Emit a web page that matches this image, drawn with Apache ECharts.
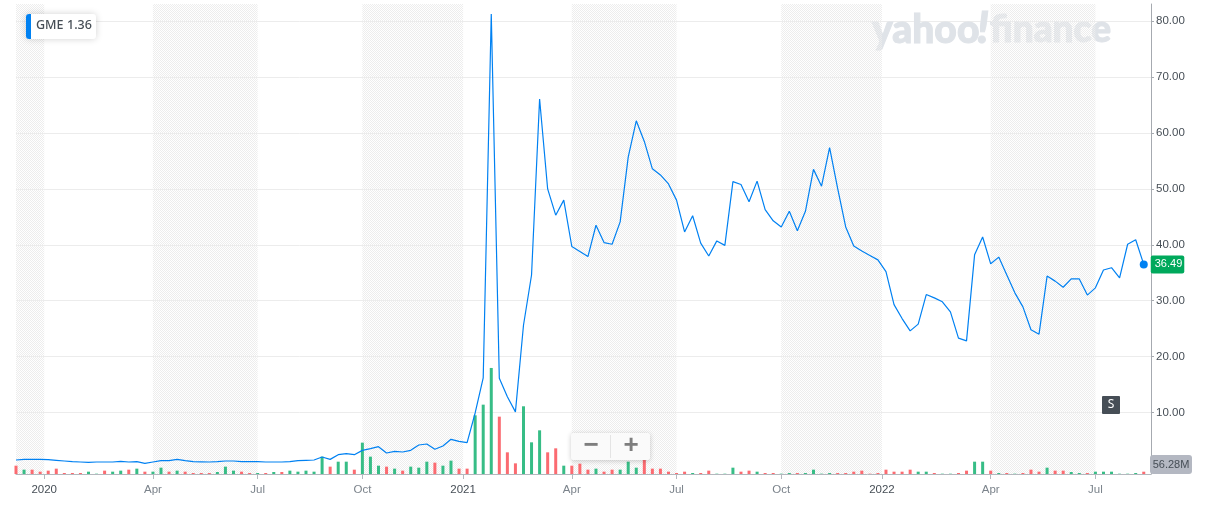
<!DOCTYPE html>
<html>
<head>
<meta charset="utf-8">
<title>GME</title>
<script src="https://cdn.jsdelivr.net/npm/echarts@6/dist/echarts.min.js"></script>
<style>
    html, body { margin: 0; padding: 0; background: #fff; }
    #main { width: 1208px; height: 511px; }
</style>
</head>
<body>
<div id="main"></div>
<script>
    // weekly closes, split adjusted, oldest first
    var prices = [
        1.49, 1.6, 1.6, 1.6, 1.55, 1.43, 1.31, 1.19, 1.13, 1.07,
        1.13, 1.13, 1.13, 1.25, 1.13, 1.19, 0.89, 1.13, 1.37, 1.37,
        1.6, 1.37, 1.19, 1.16, 1.13, 1.19, 1.31, 1.31, 1.19, 1.19,
        1.19, 1.13, 1.13, 1.13, 1.19, 1.37, 1.43, 1.49, 2.03, 1.6,
        2.44, 2.62, 2.44, 3.21, 3.51, 3.87, 2.74, 3.04, 2.92, 3.22,
        4.17, 4.35, 3.4, 3.99, 5.19, 4.83, 4.59, 9.9, 16.2, 81.3,
        16.1, 12.8, 10.1, 25.6, 34.6, 66.1, 50.0, 45.3, 48.0, 39.7,
        38.8, 37.9, 43.5, 40.4, 40.1, 44.1, 55.7, 62.2, 58.5, 53.6,
        52.5, 50.9, 48.0, 42.3, 45.2, 40.3, 38.0, 40.7, 39.9, 51.3,
        50.8, 47.7, 51.4, 46.3, 44.3, 43.2, 46.0, 42.5, 46.0, 53.5,
        50.5, 57.4, 50.1, 43.2, 39.8, 38.9, 38.1, 37.3, 35.2, 29.3,
        26.8, 24.6, 25.8, 31.1, 30.5, 29.8, 28.0, 23.3, 22.8, 38.2,
        41.4, 36.6, 37.8, 34.6, 31.4, 28.9, 24.8, 24.0, 34.4, 33.5,
        32.4, 33.9, 33.9, 31.0, 32.3, 35.5, 35.9, 34.1, 40.1, 40.9,
        36.49
    ];
    // weekly volume in millions
    var volumes = [
        204, 106, 106, 57, 82, 131, 25, 25, 25, 57,
        8, 82, 57, 82, 106, 131, 57, 57, 155, 57,
        82, 57, 25, 25, 25, 49, 180, 82, 57, 25,
        25, 25, 49, 49, 82, 57, 82, 57, 425, 180,
        302, 302, 106, 768, 425, 204, 180, 131, 82, 180,
        155, 302, 278, 204, 327, 131, 131, 1438, 1699, 2598,
        1405, 531, 261, 1659, 776, 1070, 531, 629, 204, 204,
        253, 106, 131, 57, 106, 106, 302, 155, 351, 131,
        131, 57, 25, 57, 25, 25, 82, 8, 8, 155,
        57, 82, 57, 25, 25, 8, 25, 25, 25, 106,
        8, 25, 25, 25, 57, 82, 8, 25, 106, 57,
        57, 106, 57, 57, 25, 8, 8, 25, 82, 302,
        302, 82, 25, 25, 8, 25, 106, 57, 155, 82,
        82, 49, 25, 25, 57, 57, 57, 8, 8, 25,
        56.28
    ];
    // 1 = up week, 0 = down week
    var volumeUp = [
        0, 1, 0, 0, 0, 0, 0, 0, 0, 1,
        1, 0, 1, 1, 0, 1, 0, 1, 1, 0,
        1, 0, 0, 0, 0, 1, 1, 1, 0, 0,
        1, 0, 1, 0, 1, 1, 1, 1, 1, 0,
        1, 1, 0, 1, 1, 1, 0, 1, 0, 1,
        1, 1, 0, 1, 1, 0, 0, 1, 1, 1,
        0, 0, 0, 1, 1, 1, 0, 0, 1, 0,
        0, 0, 1, 0, 0, 1, 1, 1, 0, 0,
        0, 0, 0, 0, 1, 0, 0, 1, 1, 1,
        0, 0, 1, 0, 0, 1, 1, 0, 1, 1,
        1, 1, 0, 0, 0, 0, 0, 0, 0, 0,
        0, 0, 1, 1, 0, 1, 1, 0, 0, 1,
        1, 0, 1, 0, 1, 0, 0, 0, 1, 0,
        0, 1, 1, 0, 1, 1, 1, 1, 1, 1,
        0
    ];
    var weeks = prices.map(function(v, i) { return i; });

    // x ticks, in weeks since the first point
    var tickWeeks = [3.5, 17, 30, 43, 55.5, 69, 82, 95, 107.5, 121, 134];
    var tickLabels = ['2020', 'Apr', 'Jul', 'Oct', '2021', 'Apr', 'Jul', 'Oct', '2022', 'Apr', 'Jul'];
    var priceTicks = [10, 20, 30, 40, 50, 60, 70, 80];
    var priceLines = [0, 10, 20, 30, 40, 50, 60, 70, 80, 83.1];
    // alternate quarters, same week units
    var shadedQuarters = [[0, 3.5], [17, 30], [43, 55.5], [69, 82], [95, 107.5], [121, 134]];

    var lastPrice = prices[prices.length - 1];
    var lastVolume = '56.28M';

    var TEXT_DARK = '#464e56';
    var TEXT_GREY = '#7b838b';
    var UP = '#37bd86';
    var DOWN = '#fb6b71';
    var BLUE = '#0081f2';
    var WATERMARK = '#dfe3e8';

    function make_hatch() {
        var c = document.createElement('canvas');
        c.width = 2;
        c.height = 2;
        var ctx = c.getContext('2d');
        ctx.fillStyle = '#ededed';
        ctx.fillRect(0, 0, 1, 1);
        ctx.fillRect(1, 1, 1, 1);
        return c;
    }

    var hatch = { image: make_hatch(), repeat: 'repeat' };

    var lineData = prices.map(function(v, i) {
        var item = { value: [weeks[i], v] };
        if (i === prices.length - 1) {
            item.label = {
                show: true,
                position: 'right',
                distance: 3,
                formatter: lastPrice.toFixed(2),
                color: '#fff',
                fontSize: 11,
                fontFamily: 'Liberation Sans',
                backgroundColor: '#00a95c',
                borderRadius: 2,
                padding: [4, 2, 3, 4]
            };
        }
        return item;
    });

    var barData = volumes.map(function(v, i) {
        return { value: [weeks[i], v], itemStyle: { color: volumeUp[i] ? UP : DOWN } };
    });

    var option = {
        animation: false,
        backgroundColor: '#fff',
        textStyle: { fontFamily: 'Liberation Sans' },
        grid: { left: 16, top: 4, width: 1135, height: 470, containLabel: false },
        xAxis: {
            type: 'value',
            min: 0,
            max: 140.9,
            splitLine: { show: false },
            axisLine: { onZero: false, lineStyle: { color: '#b4b8be', width: 1 } },
            axisTick: { show: true, length: 5, lineStyle: { color: '#b4b8be' }, customValues: tickWeeks },
            axisLabel: {
                customValues: tickWeeks,
                margin: 10,
                fontSize: 11.5,
                color: function(value, index) {
                    return tickLabels[index].length === 4 ? TEXT_DARK : TEXT_GREY;
                },
                formatter: function(value) {
                    return tickLabels[tickWeeks.indexOf(value)];
                }
            }
        },
        yAxis: [{
            type: 'value',
            position: 'right',
            min: -1.02,
            max: 83.1,
            axisLine: { show: true, onZero: false, lineStyle: { color: '#a6aab0', width: 1 } },
            axisTick: { show: true, length: 3, lineStyle: { color: '#a6aab0' }, customValues: priceTicks },
            axisLabel: {
                customValues: priceTicks,
                margin: 5,
                fontSize: 11.5,
                padding: [2, 0, 0, 0],
                color: TEXT_DARK,
                formatter: function(value) { return value.toFixed(2); }
            },
            splitLine: { show: true, customValues: priceLines, lineStyle: { color: '#ececec', width: 1 } }
        }, {
            type: 'value',
            min: 0,
            max: 11515,
            show: false,
            splitLine: { show: false }
        }],
        series: [{
            name: 'Volume',
            type: 'bar',
            yAxisIndex: 1,
            barWidth: 3,
            data: barData,
            silent: true,
            z: 2
        }, {
            name: 'GME',
            type: 'line',
            data: lineData,
            showSymbol: true,
            showAllSymbol: true,
            symbol: 'circle',
            symbolSize: function(value, params) {
                return params.dataIndex === prices.length - 1 ? 8 : 0;
            },
            itemStyle: { color: BLUE },
            lineStyle: { color: BLUE, width: 1.2 },
            silent: true,
            z: 3,
            markArea: {
                silent: true,
                itemStyle: { color: hatch, opacity: 1 },
                data: shadedQuarters.map(function(q) {
                    return [{ xAxis: q[0] }, { xAxis: q[1] }];
                })
            }
        }],
        graphic: [{
            type: 'text',
            x: 872,
            y: 30,
            z: 1,
            style: { text: 'yahoo', fill: WATERMARK, stroke: WATERMARK, lineWidth: 1, font: '900 39px Lato', verticalAlign: 'middle' }
        }, {
            type: 'text',
            x: 977,
            y: 29,
            z: 1,
            style: { text: '!', fill: WATERMARK, stroke: WATERMARK, lineWidth: 1, font: 'italic 900 44px Lato', verticalAlign: 'middle' }
        }, {
            type: 'text',
            x: 990,
            y: 30,
            z: 1,
            style: { text: 'finance', fill: WATERMARK, stroke: WATERMARK, lineWidth: 1, font: '900 37px Lato', verticalAlign: 'middle' }
        }, {
            type: 'rect',
            shape: { x: 26, y: 14, width: 70, height: 25, r: 3 },
            z: 20,
            style: { fill: '#fff', shadowBlur: 7, shadowColor: 'rgba(0,0,0,0.18)' }
        }, {
            type: 'rect',
            shape: { x: 26, y: 14, width: 5, height: 25, r: [3, 0, 0, 3] },
            z: 21,
            style: { fill: BLUE }
        }, {
            type: 'text',
            x: 36,
            y: 19,
            z: 21,
            style: { text: 'GME', fill: TEXT_DARK, font: '500 12.5px "Noto Sans"' }
        }, {
            type: 'text',
            x: 67,
            y: 19,
            z: 21,
            style: { text: '1.36', fill: TEXT_DARK, font: '500 12.5px "Noto Sans"' }
        }, {
            type: 'rect',
            shape: { x: 571, y: 433, width: 79, height: 27, r: 2 },
            z: 20,
            style: { fill: '#fafafa', shadowBlur: 5, shadowColor: 'rgba(0,0,0,0.2)', shadowOffsetY: 1 }
        }, {
            type: 'rect',
            shape: { x: 610, y: 435, width: 1, height: 23 },
            z: 21,
            style: { fill: '#e4e4e4' }
        }, {
            type: 'text',
            x: 591,
            y: 446,
            z: 21,
            style: { text: '\u2212', fill: '#7e7e7e', font: 'bold 26px "Liberation Sans"', align: 'center', verticalAlign: 'middle' }
        }, {
            type: 'text',
            x: 631,
            y: 446,
            z: 21,
            style: { text: '+', fill: '#7e7e7e', font: 'bold 26px "Liberation Sans"', align: 'center', verticalAlign: 'middle' }
        }, {
            type: 'rect',
            shape: { x: 1102, y: 396, width: 18, height: 18, r: 1 },
            z: 20,
            style: { fill: TEXT_DARK }
        }, {
            type: 'text',
            x: 1111,
            y: 405,
            z: 21,
            style: { text: 'S', fill: '#fff', font: '12px "Noto Sans"', align: 'center', verticalAlign: 'middle' }
        }, {
            type: 'rect',
            shape: { x: 1150, y: 455, width: 42, height: 19, r: 3 },
            z: 20,
            style: { fill: '#b4b8c2' }
        }, {
            type: 'text',
            x: 1171,
            y: 465,
            z: 21,
            style: { text: lastVolume, fill: TEXT_DARK, font: '11px "Liberation Sans"', align: 'center', verticalAlign: 'middle' }
        }]
    };

    var chart = echarts.init(document.getElementById('main'), null, { renderer: 'canvas' });
    chart.setOption(option);
</script>
</body>
</html>
